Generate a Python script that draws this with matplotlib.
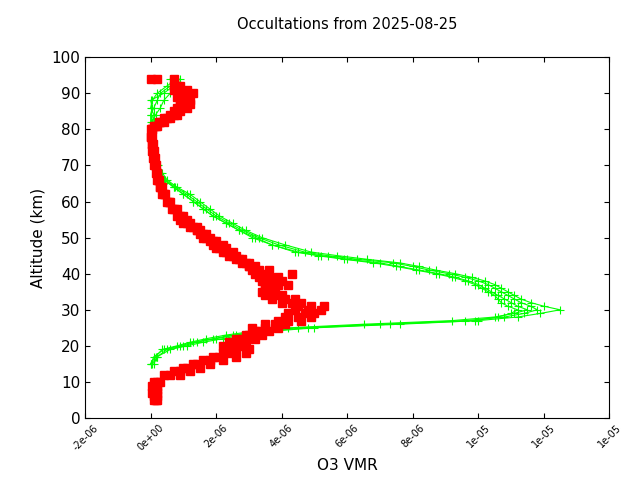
import matplotlib
matplotlib.use("Agg")
import matplotlib.pyplot as plt

x_ticks = [-2e-6, 0, 2e-6, 4e-6, 6e-6, 8e-6, 1.0e-5, 1.2e-5, 1.4e-5]
x_labels = ["-2e-06", "0e+00", "2e-06", "4e-06", "6e-06", "8e-06", "1e-05", "1e-05", "1e-05"]
y_ticks = [0, 10, 20, 30, 40, 50, 60, 70, 80, 90, 100]

green_alt = [15, 17, 19, 20, 21, 22, 23, 24, 25, 26, 27, 28, 29, 30, 31, 32, 33, 34, 35, 36, 37, 38, 39, 40,
             41, 42, 43, 44, 45, 46, 48, 50, 52, 54, 56, 58, 60, 62, 64, 66, 68, 70, 72, 74, 76, 78, 80, 82,
             84, 86, 88, 90, 92, 94]
green_profiles = [
    [0.0, 0.1, 0.4, 0.9, 1.3, 1.9, 2.5, 3.3, 4.5, 7.0, 9.6, 10.8, 11.4, 11.8, 11.6, 11.3, 11.1, 10.9, 10.7, 10.5,
     10.3, 10.0, 9.6, 9.1, 8.5, 8.0, 7.4, 6.3, 5.4, 4.7, 3.9, 3.3, 2.8, 2.4, 2.0, 1.7, 1.4, 1.1, 0.75, 0.45,
     0.3, 0.2, 0.1, 0.06, 0.05, 0.05, 0.05, 0.1, 0.1, 0.0, 0.05, 0.2, 0.5, 0.8],
    [0.05, 0.2, 0.6, 1.1, 1.6, 2.2, 2.8, 3.6, 5.0, 7.6, 10.0, 11.2, 11.9, 12.5, 12.0, 11.6, 11.3, 11.1, 10.9, 10.7,
     10.5, 10.2, 9.8, 9.3, 8.7, 8.2, 7.6, 6.6, 5.7, 4.9, 4.1, 3.4, 2.9, 2.5, 2.1, 1.8, 1.5, 1.2, 0.8, 0.5,
     0.35, 0.22, 0.12, 0.08, 0.05, 0.0, 0.0, 0.05, 0.15, 0.3, 0.4, 0.6, 0.9, 0.9],
    [0.0, 0.15, 0.35, 0.8, 1.2, 1.7, 2.3, 3.1, 4.2, 6.5, 9.2, 10.5, 11.1, 11.5, 11.2, 11.0, 10.8, 10.6, 10.4, 10.2,
     10.0, 9.7, 9.3, 8.8, 8.2, 7.6, 7.0, 6.0, 5.2, 4.5, 3.7, 3.1, 2.7, 2.3, 1.9, 1.6, 1.3, 1.0, 0.7, 0.4,
     0.28, 0.18, 0.1, 0.05, 0.05, 0.02, 0.0, 0.0, 0.0, 0.1, 0.2, 0.3, 0.6, 0.7],
    [0.1, 0.2, 0.5, 1.0, 1.4, 2.0, 2.6, 3.4, 4.8, 7.3, 9.9, 10.6, 11.0, 11.2, 10.9, 10.7, 10.6, 10.5, 10.3, 10.1,
     9.9, 9.6, 9.2, 8.7, 8.1, 7.5, 6.8, 5.9, 5.1, 4.4, 3.7, 3.2, 2.7, 2.3, 1.9, 1.6, 1.3, 1.0, 0.7, 0.42,
     0.28, 0.18, 0.1, 0.06, 0.05, 0.05, 0.1, 0.2, 0.0, 0.05, 0.0, 0.4, 0.7, 0.6],
]

red_alt = [5, 6, 7, 8, 9, 10, 12, 13, 14, 15, 16, 17, 18, 19, 20, 21, 22, 23, 24, 25, 26, 27, 28, 29, 30, 31,
           32, 33, 34, 35, 36, 37, 38, 39, 40, 41, 42, 43, 44, 45, 46, 47, 48, 49, 50, 51, 52, 53, 54, 55, 56,
           58, 60, 62, 64, 66, 68, 70, 72, 74, 76, 78, 80, 81, 82, 83, 84, 85, 86, 87, 88, 89, 90, 91, 92, 94]
red_profiles = [
    [0.1, 0.15, 0.2, 0.1, 0.2, 0.2, 0.6, 0.9, 1.1, 1.4, 1.8, 2.1, 2.4, 2.6, 2.5, 2.7, 2.8, 2.9, 3.2, 3.5, 3.8,
     4.2, 4.5, 4.7, 4.8, 4.9, 4.3, 4.1, 4.0, 3.8, 3.7, 3.9, 3.7, 3.6, 3.5, 3.3, 3.2, 3.0, 2.8, 2.6, 2.5, 2.3,
     2.2, 2.0, 1.8, 1.7, 1.5, 1.4, 1.2, 1.1, 1.0, 0.8, 0.6, 0.45, 0.35, 0.25, 0.2, 0.15, 0.12, 0.1, 0.08,
     0.05, 0.0, 0.1, 0.3, 0.4, 0.6, 0.7, 0.9, 1.0, 1.0, 1.1, 1.0, 0.9, 0.8, 0.0],
    [0.15, 0.1, 0.05, 0.2, 0.1, 0.3, 0.9, 1.2, 1.5, 1.8, 2.2, 2.6, 2.9, 3.0, 2.2, 2.9, 3.2, 3.4, 3.6, 3.9, 4.1,
     4.6, 4.9, 5.0, 5.2, 4.5, 4.0, 3.7, 3.5, 3.4, 3.6, 4.2, 4.0, 3.9, 4.3, 3.6, 3.0, 2.8, 2.6, 2.5, 2.3, 2.1,
     2.0, 1.9, 1.7, 1.6, 1.4, 1.3, 1.1, 1.0, 0.9, 0.7, 0.55, 0.4, 0.3, 0.22, 0.18, 0.12, 0.1, 0.08, 0.05,
     0.02, 0.05, 0.2, 0.4, 0.6, 0.8, 0.9, 1.1, 1.2, 1.2, 1.0, 1.3, 1.1, 0.9, 0.7],
    [0.2, 0.2, 0.1, 0.15, 0.05, 0.1, 0.4, 0.7, 1.0, 1.3, 1.6, 1.9, 2.2, 2.3, 2.8, 2.4, 2.6, 3.0, 3.3, 3.1, 3.5,
     3.9, 4.1, 4.2, 4.4, 5.3, 4.6, 4.4, 3.8, 3.6, 3.5, 3.5, 3.4, 3.3, 3.2, 3.1, 3.0, 2.9, 2.7, 2.4, 2.2, 2.0,
     1.9, 1.8, 1.6, 1.5, 1.4, 1.2, 1.0, 0.9, 0.8, 0.65, 0.5, 0.35, 0.28, 0.2, 0.15, 0.1, 0.08, 0.05, 0.03,
     0.0, 0.05, 0.15, 0.25, 0.5, 0.7, 0.8, 0.8, 0.9, 0.9, 0.8, 0.9, 0.7, 0.7, 0.2],
]

fig = plt.figure(figsize=(6.4, 4.8), dpi=100)
ax = fig.add_axes([0.133, 0.129, 0.819, 0.752])
for prof in green_profiles:
    ax.plot([v * 1e-6 for v in prof], green_alt, color="#00ff00", lw=0.8, marker="+", ms=6, mew=0.8)
for prof in red_profiles:
    ax.plot([v * 1e-6 for v in prof], red_alt, color="#ff0000", ls="none", marker="s", ms=5.5)

ax.set_xlim(-2e-6, 1.4e-5)
ax.set_ylim(0, 100)
ax.set_xticks(x_ticks)
ax.set_xticklabels(x_labels, rotation=45, fontsize=7)
ax.set_yticks(y_ticks)
ax.tick_params(direction="in", top=True, right=True, labelsize=11)
ax.tick_params(axis="x", labelsize=7)
ax.set_xlabel("O3 VMR", fontsize=11)
ax.set_ylabel("Altitude (km)", fontsize=11)
ax.set_title("Occultations from 2025-08-25", fontsize=10.5, pad=20)
fig.savefig("out.png", dpi=100)
